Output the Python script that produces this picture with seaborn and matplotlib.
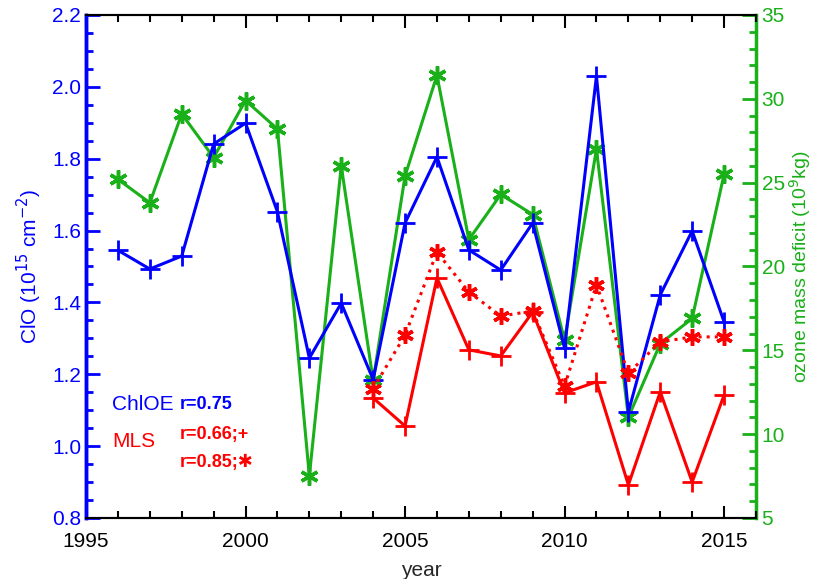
import numpy as np
import pandas as pd
import matplotlib
matplotlib.use("Agg")
import matplotlib.pyplot as plt
import seaborn as sns
from matplotlib.ticker import MultipleLocator

sns.set_style('ticks')
plt.rcParams['font.family'] = ['Liberation Sans', 'DejaVu Sans']

years = list(range(1996, 2016))
clo_chloe = [1.545, 1.493, 1.529, 1.841, 1.899, 1.652, 1.245, 1.398, 1.185, 1.621,
             1.805, 1.546, 1.490, 1.621, 1.273, 2.030, 1.095, 1.421, 1.599, 1.346]

mls_years = list(range(2004, 2016))
clo_mls_plus = [1.134, 1.056, 1.468, 1.268, 1.251, 1.373, 1.148, 1.179, 0.892, 1.151, 0.900, 1.142]
clo_mls_star = [1.160, 1.309, 1.540, 1.429, 1.362, 1.376, 1.167, 1.449, 1.203, 1.290, 1.304, 1.304]

ozone_deficit = [25.2, 23.8, 29.1, 26.5, 29.9, 28.2, 7.5, 26.0, 13.2, 25.4,
                 31.4, 21.6, 24.3, 23.1, 15.6, 27.0, 11.0, 15.4, 16.9, 25.5]

blue = '#0000ff'
red = '#ff0000'
green = '#19b019'
star = (6, 2, 0)

df = pd.DataFrame({'year': years, 'chloe': clo_chloe, 'ozone': ozone_deficit})
mls = pd.DataFrame({'year': mls_years, 'plus': clo_mls_plus, 'star': clo_mls_star})

fig = plt.figure(figsize=(8.14, 5.79), dpi=100)
ax = fig.add_axes([0.1057, 0.1054, 0.8230, 0.8687])
ax2 = ax.twinx()

sns.lineplot(data=df, x='year', y='ozone', ax=ax2, color=green, lw=2.2,
             marker=star, markersize=13, mew=2.5, mec=green)
sns.lineplot(data=df, x='year', y='chloe', ax=ax, color=blue, lw=2.2,
             marker='+', markersize=14, mew=2, mec=blue)
sns.lineplot(data=mls, x='year', y='star', ax=ax, color=red, lw=2.2, ls=':',
             marker=star, markersize=12, mew=2.5, mec=red)
sns.lineplot(data=mls, x='year', y='plus', ax=ax, color=red, lw=2.2,
             marker='+', markersize=14, mew=2, mec=red)

# draw left axes above the twin so blue/red are on top
ax.set_zorder(ax2.get_zorder() + 1)
ax.patch.set_visible(False)

ax.set_xlim(1995, 2016)
ax.set_ylim(0.8, 2.2)
ax2.set_ylim(5, 35)

ax.xaxis.set_major_locator(MultipleLocator(5))
ax.xaxis.set_minor_locator(MultipleLocator(1))
ax.yaxis.set_major_locator(MultipleLocator(0.2))
ax.yaxis.set_minor_locator(MultipleLocator(0.05))
ax2.yaxis.set_major_locator(MultipleLocator(5))
ax2.yaxis.set_minor_locator(MultipleLocator(1))

ax.tick_params(axis='x', which='both', direction='in', top=True, colors='black',
               labelsize=15, pad=10)
ax.tick_params(axis='x', which='major', length=9, width=1.5)
ax.tick_params(axis='x', which='minor', length=5, width=1.5)
ax.tick_params(axis='y', which='both', direction='in', colors=blue, labelsize=15, width=2)
ax.tick_params(axis='y', which='major', length=10)
ax.tick_params(axis='y', which='minor', length=5)
ax2.tick_params(axis='y', which='both', direction='in', colors=green, labelsize=15, width=2, pad=4)
ax2.tick_params(axis='y', which='major', length=10)
ax2.tick_params(axis='y', which='minor', length=5)
ax.set_yticklabels([f'{v:.1f}' for v in ax.get_yticks()])

for a in (ax, ax2):
    a.spines['top'].set_color('black')
    a.spines['bottom'].set_color('black')
    a.spines['top'].set_linewidth(1.5)
    a.spines['bottom'].set_linewidth(1.5)
ax2.spines['left'].set_color(blue)
ax2.spines['left'].set_linewidth(2.5)
ax.spines['left'].set_color(blue)
ax.spines['left'].set_linewidth(2.5)
ax2.spines['right'].set_color(green)
ax2.spines['right'].set_linewidth(2.5)
ax.spines['right'].set_visible(False)

ax.set_xlabel('year', fontsize=15)
ax.xaxis.set_label_coords(0.5, -0.085)
ax.set_ylabel('ClO (10$^{15}$ cm$^{-2}$)', color=blue, fontsize=15, labelpad=6)
ax2.set_ylabel('ozone mass deficit (10$^{9}$kg)', color=green, fontsize=14)
ax2.yaxis.set_label_coords(1.046, 0.5)
ax.grid(False)
ax2.grid(False)

ax.text(0.039, 0.226, 'ChlOE', transform=ax.transAxes, color=blue, fontsize=15, va='center')
ax.text(0.140, 0.226, 'r=0.75', transform=ax.transAxes, color=blue, fontsize=13,
        fontweight='bold', va='center')
ax.text(0.039, 0.153, 'MLS', transform=ax.transAxes, color=red, fontsize=15, va='center')
ax.text(0.140, 0.165, 'r=0.66;+', transform=ax.transAxes, color=red, fontsize=13,
        fontweight='bold', va='center')
ax.text(0.140, 0.111, 'r=0.85;\u2731', transform=ax.transAxes, color=red, fontsize=13,
        fontweight='bold', va='center', family=['Liberation Sans', 'DejaVu Sans'])

fig.savefig('out.png', dpi=100)
